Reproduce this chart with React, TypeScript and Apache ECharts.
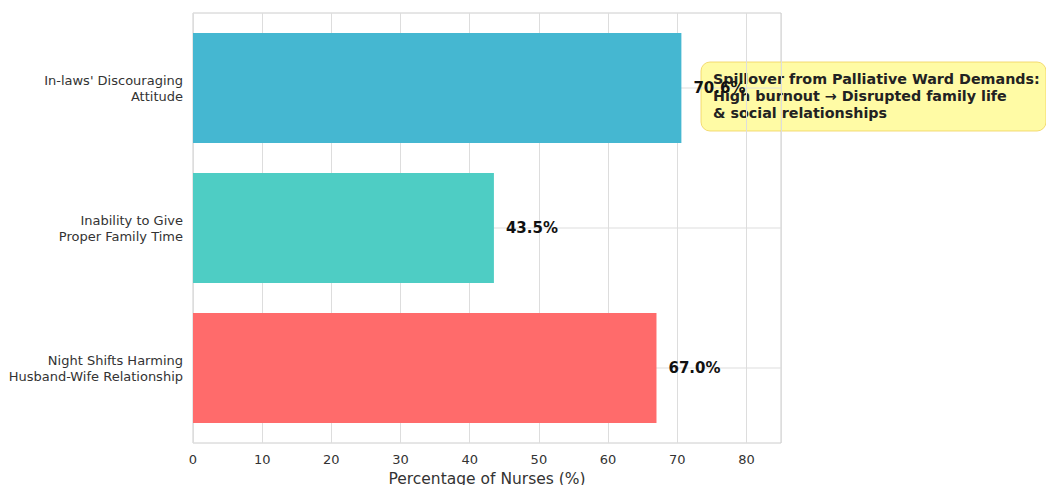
import React, { useEffect, useRef } from "react";
import * as echarts from "echarts";

const categories = [
  "In-laws' Discouraging\nAttitude",
  "Inability to Give\nProper Family Time",
  "Night Shifts Harming\nHusband-Wife Relationship",
];
const values = [70.6, 43.5, 67.0];
const barColors = ["#45B7D1", "#4ECDC4", "#FF6B6B"];
const xTicks = { min: 0, max: 85, interval: 10 };
const noteLines = [
  "Spillover from Palliative Ward Demands:",
  "High burnout \u2192 Disrupted family life",
  "& social relationships",
];

const FONT = "DejaVu Sans";

export default function App() {
  const ref = useRef<HTMLDivElement>(null);

  useEffect(() => {
    document.body.style.margin = "0";
    const chart = echarts.init(ref.current!, null, { renderer: "svg" });
    const left = 193;
    const right = 1046 - 781;

    const option: any = {
      animation: false,
      backgroundColor: "#ffffff",
      grid: [
        {
          left,
          right,
          top: 13,
          height: 430,
          show: true,
          borderColor: "#cccccc",
          borderWidth: 1,
          containLabel: false,
          outerBoundsMode: "none",
        },
        { left, right, top: 18, height: 420, containLabel: false, outerBoundsMode: "none" },
      ],
      xAxis: [
        {
          gridIndex: 0,
          type: "value",
          min: xTicks.min,
          max: xTicks.max,
          interval: xTicks.interval,
          axisLine: { show: false },
          axisTick: { show: false },
          axisLabel: { color: "#333", fontFamily: FONT, fontSize: 13, margin: 10, showMaxLabel: false },
          splitLine: { show: true, lineStyle: { color: "#dddddd", width: 1 } },
          name: "Percentage of Nurses (%)",
          nameLocation: "middle",
          nameGap: 27,
          nameTextStyle: { color: "#333", fontFamily: FONT, fontSize: 15.5 },
        },
        {
          gridIndex: 1,
          type: "value",
          min: xTicks.min,
          max: xTicks.max,
          show: false,
        },
      ],
      yAxis: [
        { gridIndex: 0, type: "value", show: false, min: 0, max: 1 },
        {
          gridIndex: 1,
          type: "category",
          data: categories,
          inverse: true,
          axisLine: { show: false },
          axisTick: { show: false },
          splitLine: { show: false },
          axisLabel: {
            color: "#333",
            fontFamily: FONT,
            fontSize: 13,
            margin: 10,
            align: "right",
            lineHeight: 16,
          },
        },
      ],
      series: [
        // horizontal grid lines through each category centre
        ...categories.map((c) => ({
          type: "line",
          xAxisIndex: 1,
          yAxisIndex: 1,
          data: [
            [xTicks.min, c],
            [xTicks.max, c],
          ],
          symbol: "none",
          silent: true,
          z: 1,
          lineStyle: { color: "#dddddd", width: 1 },
        })),
        {
          type: "bar",
          xAxisIndex: 1,
          yAxisIndex: 1,
          z: 3,
          barWidth: 110,
          data: values.map((v, i) => ({ value: v, itemStyle: { color: barColors[i] } })),
          label: {
            show: true,
            position: "right",
            distance: 12,
            color: "#111",
            fontFamily: FONT,
            fontWeight: "bold",
            fontSize: 15,
            formatter: (p: any) => `${p.value.toFixed(1)}%`,
          },
        },
      ],
      graphic: [
        {
          type: "group",
          z: 100,
          children: [
            {
              type: "rect",
              shape: { x: 701, y: 62, width: 345, height: 69, r: 9 },
              style: { fill: "rgba(255, 250, 130, 0.72)", stroke: "rgba(240, 210, 90, 0.8)", lineWidth: 1 },
            },
            {
              type: "text",
              x: 713,
              y: 70,
              style: {
                text: noteLines.join("\n"),
                fontFamily: FONT,
                fontWeight: "bold",
                fontSize: 14.3,
                lineHeight: 17,
                fill: "#222",
              },
            },
          ],
        },
      ],
    };

    chart.setOption(option);
    return () => chart.dispose();
  }, []);

  return <div ref={ref} style={{ width: 1046, height: 485 }} />;
}
